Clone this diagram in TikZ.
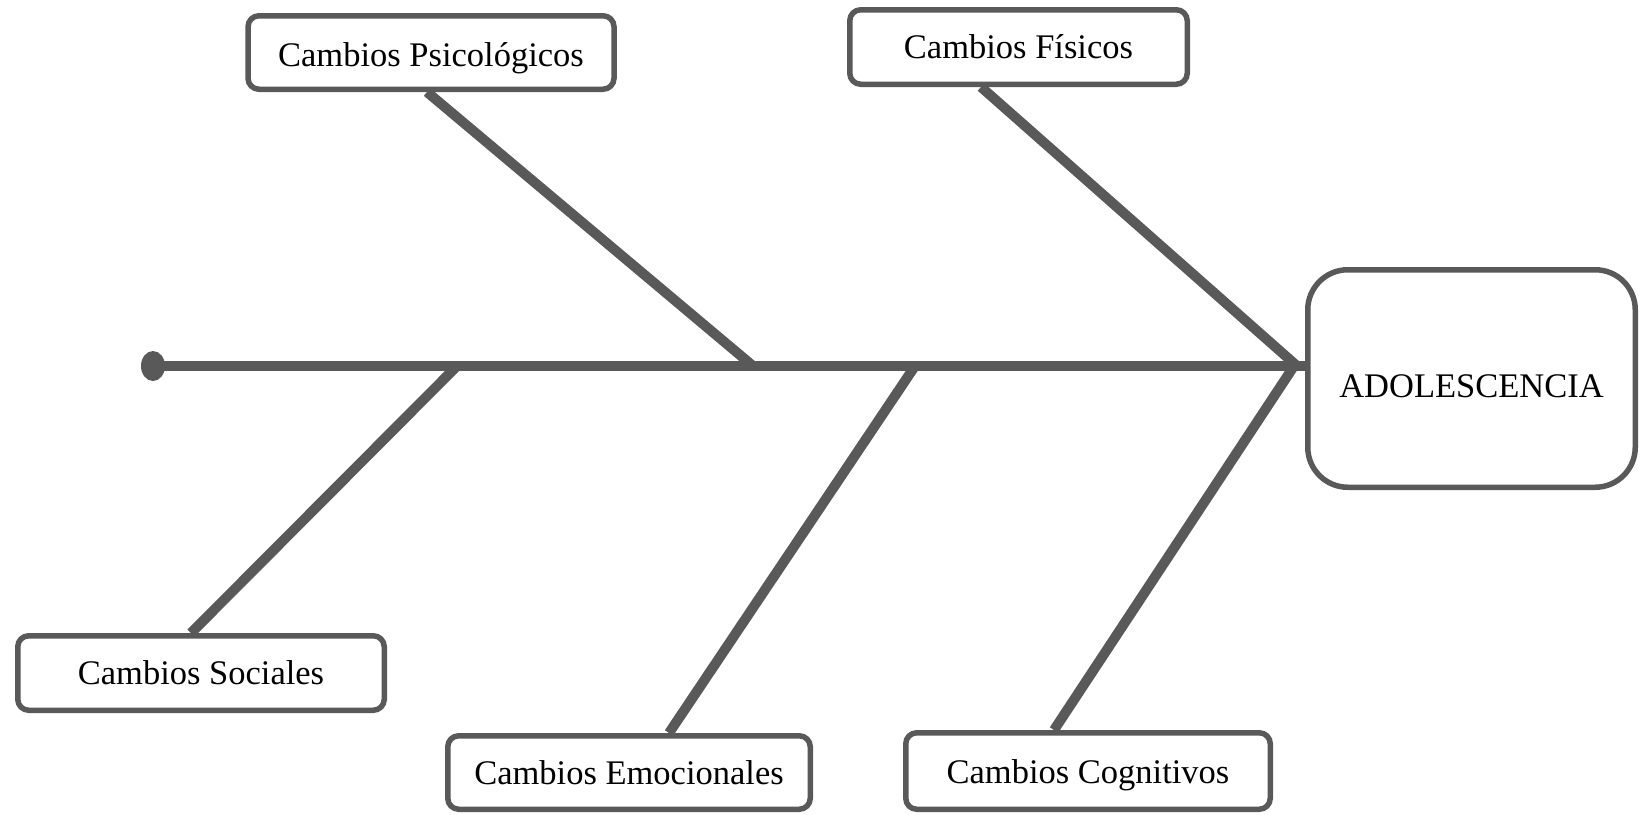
\documentclass[tikz,border=0pt]{standalone}
\usepackage{fontspec}
\setmainfont{Liberation Serif}
\usetikzlibrary{calc,backgrounds}
\definecolor{lc}{HTML}{595959}
\begin{document}
\begin{tikzpicture}[x=1pt,y=-1pt,
  cbox/.style={draw=lc, line width=5.5pt, rounded corners=11pt, fill=white, inner sep=0pt,
    font=\fontsize{34.5}{40}\selectfont},
  bone/.style={draw=lc, line width=10pt}]
\useasboundingbox (0,0) rectangle (1640,814);
% boxes
\node[cbox, minimum width=366pt, minimum height=73.5pt, text height=35pt] (psi) at (431,52.5) {Cambios Psicológicos};
\node[cbox, minimum width=337.5pt, minimum height=74.5pt] (fis) at (1018.5,47) {Cambios Físicos};
\node[cbox, minimum width=366.5pt, minimum height=74.5pt] (soc) at (201,673) {Cambios Sociales};
\node[cbox, minimum width=362.5pt, minimum height=73.5pt] (emo) at (629,772.5) {Cambios Emocionales};
\node[cbox, minimum width=364.5pt, minimum height=76.5pt, text height=33pt] (cog) at (1088,771) {Cambios Cognitivos};
\node[cbox, rounded corners=40pt, minimum width=327.5pt, minimum height=217.5pt, text height=39pt] (ado) at (1471.5,378.5) {ADOLESCENCIA};
% spine points
\coordinate (dot) at (153,366);
\coordinate (j1) at (753,366);
\coordinate (j2) at (1297,366);
\coordinate (j3) at (457,366);
\coordinate (j4) at (915,366);
\coordinate (j5) at (1294,366);
\begin{scope}[on background layer]
  \draw[bone] (dot) -- (ado.west |- dot);
  \draw[bone] (j1) -- ($(psi.south)+(-4,0)$);
  \draw[bone] (j2) -- ($(fis.south)+(-37.5,0)$);
  \draw[bone] (j3) -- ($(soc.north)+(-10,0)$);
  \draw[bone] (j4) -- ($(emo.north)+(40,0)$);
  \draw[bone] (j5) -- ($(cog.north)+(-34,0)$);
  \fill[lc] (dot) ellipse [x radius=12, y radius=15];
\end{scope}
\end{tikzpicture}
\end{document}
